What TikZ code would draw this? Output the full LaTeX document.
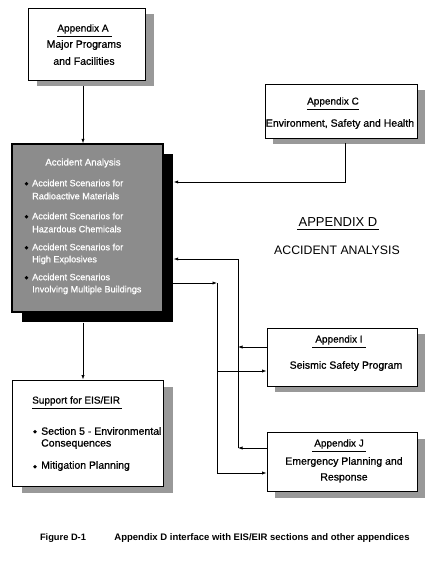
\documentclass[tikz,border=0pt]{standalone}
\usepackage{fontspec}
\setmainfont{Liberation Sans}
\newfontfamily\txt{Liberation Sans}[FakeBold=0.8]
\usetikzlibrary{arrows.meta,shadows}
\begin{document}
\begin{tikzpicture}[x=1pt,y=-1pt,
  box/.style={draw=black,line width=0.8pt,fill=white,inner sep=0pt},
  gshadow/.style={drop shadow={shadow xshift=#1,shadow yshift=-6pt,fill=black!40,opacity=1}},
  hd/.style={inner sep=0pt,font=\txt\fontsize{10}{12}\selectfont},
  bd/.style={inner sep=0pt,font=\txt\fontsize{10.5}{12}\selectfont},
  acct/.style={inner sep=0pt,anchor=west,text=white,font=\txt\fontsize{9.1}{10}\selectfont},
  bul/.style={circle,fill=black,inner sep=0pt,minimum size=3.8pt},
  ul/.style={line width=0.7pt},
  arr/.style={line width=0.7pt,-{Latex[length=4.5pt,width=3.2pt]}},
  ln/.style={line width=0.7pt}]
\useasboundingbox (0,0) rectangle (435,577);
\fill[white] (0,0) rectangle (435,577);
% Appendix A
\node[box,gshadow=9pt,minimum width=117pt,minimum height=72pt] (A) at (86.5,44) {};
\node[hd] (Ah) at (83,29) {Appendix A};
\draw[ul] ([yshift=-2.5]Ah.south west) -- ([xshift=3,yshift=-2.5]Ah.south east);
\node[bd] (A1) at (84,45) {Major Programs};
\node[bd] (A2) at (84,61) {and Facilities};
% Appendix C
\node[box,gshadow=8pt,minimum width=152pt,minimum height=54pt] (C) at (341,111) {};
\node[hd] (Ch) at (333,102) {Appendix C};
\draw[ul] ([yshift=-2.5]Ch.south west) -- ([yshift=-2.5]Ch.south east);
\node[bd] (C1) at (340,124) {Environment, Safety and Health};
% Accident Analysis
\node[box,fill=black!45,line width=1.2pt,drop shadow={shadow xshift=10pt,shadow yshift=-10pt,fill=black,opacity=1},minimum width=151pt,minimum height=168pt] (acc) at (87.5,228) {};
\node[inner sep=0pt,text=white,font=\txt\fontsize{9.6}{10}\selectfont] (acch) at (83,163) {Accident Analysis};
\foreach \i/\y/\ta/\tb in {1/183/Accident Scenarios for/Radioactive Materials,2/216/Accident Scenarios for/Hazardous Chemicals,3/247/Accident Scenarios for/High Explosives,4/277/Accident Scenarios/Involving Multiple Buildings}{
  \node[bul] (accb\i) at (26.5,\y+0.8) {};
  \node[acct] (acca\i) at (32,\y) {\ta};
  \node[acct] (accc\i) at (32,\y+13) {\tb};
}
% Support
\node[box,drop shadow={shadow xshift=10pt,shadow yshift=-7pt,fill=black!40,opacity=1},minimum width=151pt,minimum height=106pt] (sup) at (87.5,433) {};
\node[hd,anchor=west] (suph) at (32,401) {Support for EIS/EIR};
\draw[ul] ([yshift=-2.5]suph.south west) -- ([xshift=2,yshift=-2.5]suph.south east);
\node[bul] (supb1) at (35,431.8) {};
\node[bd,anchor=west] (sup1) at (41,431) {Section 5 - Environmental};
\node[bd,anchor=west] (sup2) at (41,444) {Consequences};
\node[bul] (supb2) at (35,466.8) {};
\node[bd,anchor=west] (sup3) at (41,466) {Mitigation Planning};
% Appendix I
\node[box,gshadow=8pt,minimum width=150pt,minimum height=58pt] (I) at (342,357) {};
\node[hd] (Ih) at (339,340) {Appendix I};
\draw[ul] ([xshift=-3,yshift=-2.5]Ih.south west) -- ([xshift=3,yshift=-2.5]Ih.south east);
\node[bd] (I1) at (346,366) {Seismic Safety Program};
% Appendix J
\node[box,gshadow=8pt,minimum width=150pt,minimum height=59pt] (J) at (342,462) {};
\node[hd] (Jh) at (339,444) {Appendix J};
\draw[ul] ([xshift=-2,yshift=-2.5]Jh.south west) -- ([xshift=2,yshift=-2.5]Jh.south east);
\node[bd] (J1) at (344,462) {Emergency Planning and};
\node[bd] (J2) at (344,478) {Response};
% Appendix D title
\node[inner sep=0pt,font=\fontsize{13}{14}\selectfont] (Dh) at (338,222) {APPENDIX D};
\draw[ul] ([xshift=-1,yshift=-3]Dh.south west) -- ([xshift=1,yshift=-3]Dh.south east);
\node[inner sep=0pt,font=\fontsize{12.3}{14}\selectfont] (Dt) at (337,250) {ACCIDENT ANALYSIS};
% caption
\node[inner sep=0pt,font=\bfseries\fontsize{9.3}{10}\selectfont] (fig) at (63,538) {Figure D-1};
\node[inner sep=0pt,font=\bfseries\fontsize{9.5}{10}\selectfont] (cap) at (262,538) {Appendix D interface with EIS/EIR sections and other appendices};
% coordinates
\coordinate (accR) at ([xshift=10]acc.east);
\coordinate (vA) at (217,283);
\coordinate (vB) at (238,347);
\coordinate (vC) at (238,448);
% connectors
\draw[arr] ([xshift=-3.5,yshift=-6]A.south) -- ([xshift=-4.5]acc.north);
\draw[arr] ([xshift=4,yshift=-5]C.south) |- (accR |- 0,182);
\draw[arr] ([xshift=-4.5,yshift=-10]acc.south) -- ([xshift=-4.5]sup.north);
\draw[arr] (acc.east |- vA) -- (vA);
\draw[arr] (vA) |- (I.west |- 0,371);
\draw[arr] (vA) |- (J.west |- 0,473);
\draw[arr] (I.west |- vB) -- (vB);
\draw[arr] (J.west |- vC) -- (vC);
\draw[ln] (vC) -- (vB);
\draw[arr] (vB) |- (accR |- 0,259);
\end{tikzpicture}
\end{document}
